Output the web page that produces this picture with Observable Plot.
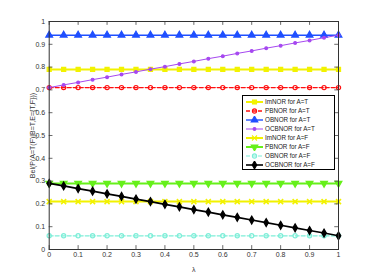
<!DOCTYPE html>
<html><head><meta charset="utf-8">
<script src="https://cdn.jsdelivr.net/npm/d3@7"></script>
<script src="https://cdn.jsdelivr.net/npm/@observablehq/plot@0.6"></script>
<style>
body{margin:0;background:#fff;font-family:"Liberation Sans",Arial,sans-serif;}
#wrap{position:relative;width:374px;height:280px;}
#legend{position:absolute;left:242px;top:95px;width:93px;height:75px;border:1px solid #000;background:#fff;box-sizing:border-box;padding-top:1px;overflow:hidden;}
.row{display:flex;align-items:center;height:9px;line-height:9px;font-size:6.3px;color:#222;}
.row svg{margin-left:3px;margin-right:2px;display:block;}
</style></head>
<body><div id="wrap"></div>
<script>
const lambda = [0,0.05,0.1,0.15,0.2,0.25,0.3,0.35,0.4,0.45,0.5,0.55,0.6,0.65,0.7,0.75,0.8,0.85,0.9,0.95,1];
const imnorT = [0.79,0.79,0.79,0.79,0.79,0.79,0.79,0.79,0.79,0.79,0.79,0.79,0.79,0.79,0.79,0.79,0.79,0.79,0.79,0.79,0.79];
const pbnorT = [0.71,0.71,0.71,0.71,0.71,0.71,0.71,0.71,0.71,0.71,0.71,0.71,0.71,0.71,0.71,0.71,0.71,0.71,0.71,0.71,0.71];
const obnorT = [0.94,0.94,0.94,0.94,0.94,0.94,0.94,0.94,0.94,0.94,0.94,0.94,0.94,0.94,0.94,0.94,0.94,0.94,0.94,0.94,0.94];
const ocbnorT = [0.710,0.722,0.733,0.745,0.756,0.768,0.779,0.791,0.802,0.814,0.825,0.837,0.848,0.860,0.871,0.883,0.894,0.906,0.917,0.929,0.940];
const imnorF = [0.21,0.21,0.21,0.21,0.21,0.21,0.21,0.21,0.21,0.21,0.21,0.21,0.21,0.21,0.21,0.21,0.21,0.21,0.21,0.21,0.21];
const pbnorF = [0.29,0.29,0.29,0.29,0.29,0.29,0.29,0.29,0.29,0.29,0.29,0.29,0.29,0.29,0.29,0.29,0.29,0.29,0.29,0.29,0.29];
const obnorF = [0.06,0.06,0.06,0.06,0.06,0.06,0.06,0.06,0.06,0.06,0.06,0.06,0.06,0.06,0.06,0.06,0.06,0.06,0.06,0.06,0.06];
const ocbnorF = [0.290,0.279,0.267,0.256,0.244,0.233,0.221,0.210,0.198,0.187,0.175,0.164,0.152,0.141,0.129,0.118,0.106,0.095,0.083,0.072,0.060];
const xTicks = [0,0.1,0.2,0.3,0.4,0.5,0.6,0.7,0.8,0.9,1];
const yTicks = [0,0.1,0.2,0.3,0.4,0.5,0.6,0.7,0.8,0.9,1];
const xTickLabels = ["0","0.1","0.2","0.3","0.4","0.5","0.6","0.7","0.8","0.9","1"];
const yTickLabels = ["0","0.1","0.2","0.3","0.4","0.5","0.6","0.7","0.8","0.9","1"];
const names = ["ImNOR for A=T","PBNOR for A=T","OBNOR for A=T","OCBNOR for A=T","ImNOR for A=F","PBNOR for A=F","OBNOR for A=F","OCBNOR for A=F"];

const series = [
  {name:names[0], vals:imnorT, color:"#f2f200", sw:2, dash:null, symbol:"square", r:2.3, fill:"#f2f200", rot:0},
  {name:names[1], vals:pbnorT, color:"#ff1010", sw:1.4, dash:"4,2", symbol:"circle", r:2.1, fill:"none", rot:0},
  {name:names[2], vals:obnorT, color:"#1f4fff", sw:1.4, dash:null, symbol:"triangle", r:2.5, fill:"#1f4fff", rot:0},
  {name:names[3], vals:ocbnorT, color:"#a648f0", sw:1, dash:null, symbol:"circle", r:1.4, fill:"#a648f0", rot:0},
  {name:names[4], vals:imnorF, color:"#f2f200", sw:2, dash:null, symbol:"times", r:2.4, fill:"none", rot:0},
  {name:names[5], vals:pbnorF, color:"#66f01a", sw:2, dash:null, symbol:"triangle", r:2.5, fill:"#66f01a", rot:180},
  {name:names[6], vals:obnorF, color:"#7deed8", sw:1.2, dash:"4,2", symbol:"circle", r:2.1, fill:"none", rot:0},
  {name:names[7], vals:ocbnorF, color:"#000000", sw:1.6, dash:null, symbol:"diamond", r:2.4, fill:"#000000", rot:0}
];

const marks = [];
for (const s of series) {
  const data = lambda.map((x,i)=>({x, y:s.vals[i]}));
  marks.push(Plot.line(data, {x:"x", y:"y", stroke:s.color, strokeWidth:s.sw, strokeDasharray:s.dash}));
  marks.push(Plot.dot(data, {x:"x", y:"y", symbol:s.symbol, r:s.r, stroke:s.color, strokeWidth:s.symbol==="times"?1.5:1.2, fill:s.fill, rotate:s.rot}));
}

const chart = Plot.plot({
  width:374, height:280,
  marginLeft:48.7, marginRight:36, marginTop:21, marginBottom:31,
  style:{fontFamily:"'Liberation Sans',Arial,sans-serif", fontSize:"7px", color:"#333", background:"#fff"},
  x:{domain:[0,1]},
  y:{domain:[0,1]},
  marks:[
    ...marks,
    Plot.ruleX(xTicks, {x:d=>d, y1:0, y2:0.017, stroke:"#444", strokeWidth:0.8}),
    Plot.ruleX(xTicks, {x:d=>d, y1:1, y2:0.983, stroke:"#444", strokeWidth:0.8}),
    Plot.ruleY(yTicks, {y:d=>d, x1:0, x2:0.013, stroke:"#444", strokeWidth:0.8}),
    Plot.ruleY(yTicks, {y:d=>d, x1:1, x2:0.987, stroke:"#444", strokeWidth:0.8}),
    Plot.frame({stroke:"#333", strokeWidth:1}),
    Plot.axisX({ticks:xTicks, tickSize:0, tickPadding:3, tickFormat:(d,i)=>xTickLabels[i], label:"λ", labelAnchor:"center", labelOffset:22, labelArrow:"none", fill:"#333"}),
    Plot.axisY({ticks:yTicks, tickSize:0, tickPadding:4, tickFormat:(d,i)=>yTickLabels[i], label:"Bel(P(A=T(F)|B=T,E={T,F}))", labelAnchor:"center", labelOffset:19, labelArrow:"none", fill:"#333"})
  ]
});
const wrap = document.getElementById("wrap");
wrap.appendChild(chart);

// legend
const leg = document.createElement("div");
leg.id = "legend";
for (const s of series) {
  const row = document.createElement("div");
  row.className = "row";
  const svg = d3.create("svg").attr("width",17).attr("height",8);
  svg.append("line").attr("x1",0).attr("x2",17).attr("y1",4).attr("y2",4)
    .attr("stroke",s.color).attr("stroke-width",s.sw).attr("stroke-dasharray",s.dash);
  const sym = {square:d3.symbolSquare, circle:d3.symbolCircle, triangle:d3.symbolTriangle, diamond:d3.symbolDiamond, times:d3.symbolTimes}[s.symbol];
  svg.append("path").attr("d", d3.symbol(sym, Math.PI*s.r*s.r)())
    .attr("transform",`translate(8.5,4) rotate(${s.rot})`)
    .attr("fill",s.fill).attr("stroke",s.color).attr("stroke-width",1.1);
  row.appendChild(svg.node());
  const t = document.createElement("span");
  t.textContent = s.name;
  row.appendChild(t);
  leg.appendChild(row);
}
wrap.appendChild(leg);
</script></body></html>
